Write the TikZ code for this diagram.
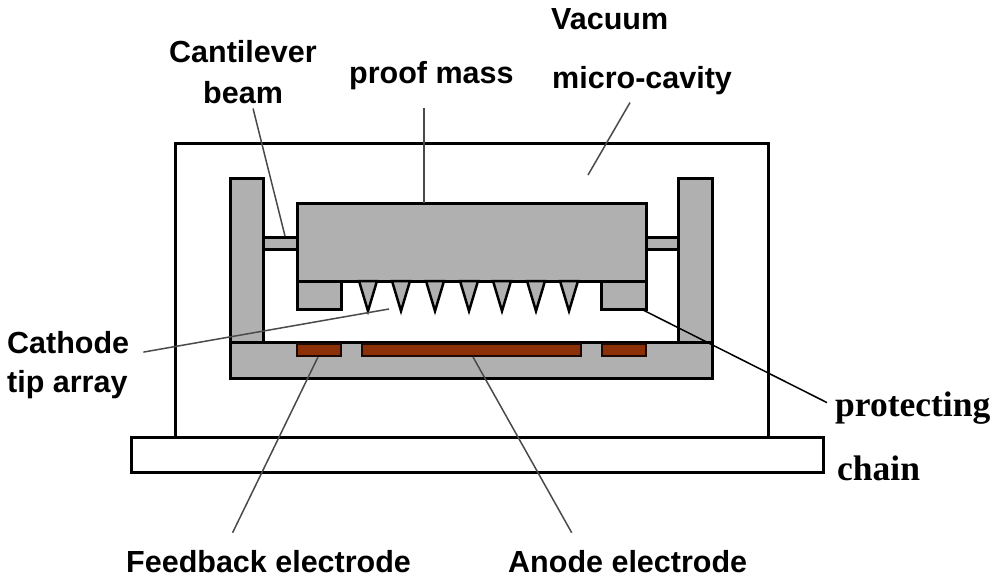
\documentclass[tikz,border=0pt]{standalone}
\usepackage{fontspec}
\setmainfont{Liberation Sans}
\newfontfamily\serifbold[BoldFont=*]{Liberation Serif Bold}
\definecolor{partgray}{HTML}{B0B0B0}
\definecolor{electrodebrown}{HTML}{8C3008}
\definecolor{leadergray}{HTML}{4A4A4A}
\tikzset{
  part/.style={draw=black, fill=partgray, line width=3pt},
  frame/.style={draw=black, fill=white, line width=3pt},
  electrode/.style={draw=black!80!electrodebrown, fill=electrodebrown, line width=2.5pt},
  leader/.style={draw=leadergray, line width=1.5pt},
  label/.style={anchor=base west, inner sep=0pt, font=\fontsize{30.5}{32}\selectfont\bfseries},
  seriflabel/.style={anchor=base west, inner sep=0pt, font=\fontsize{35.5}{36}\selectfont\serifbold}
}
\begin{document}
\begin{tikzpicture}[x=1pt, y=-1pt]
    \useasboundingbox (0,0) rectangle (1000,583);

    % Package and substrate
    \draw[frame] (175,143) rectangle (768,437);
    \draw[frame] (131,437) rectangle (823,472);

    % Side walls and bottom plate
    \draw[part] (230,178) rectangle (263,342);
    \draw[part] (678,178) rectangle (712,342);
    \draw[part] (230,342) rectangle (712,378);

    % Electrodes on the plate
    \draw[electrode] (297,344) rectangle (341,356);
    \draw[electrode] (362,344) rectangle (581,356);
    \draw[electrode] (602,344) rectangle (646,356);

    % Beams, stops and mass
    \draw[part] (263,237) rectangle (297,249);
    \draw[part] (646,237) rectangle (678,249);
    \draw[part] (297,281) rectangle (341,309);
    \draw[part] (601,281) rectangle (646,309);
    \draw[part] (297,203) rectangle (646,281);

    % Tips
    \foreach \tipx in {368,401,435,469,502,536,569}
      \draw[part, line width=2.5pt] (\tipx-9,281) -- (\tipx+9,281) -- (\tipx,311) -- cycle;

    % Labels
    \node[label] (cantilever) at (169,63) {Cantilever};
    \node[label] (beam) at (203,103) {beam};
    \node[label] (proofmass) at (349,84) {proof mass};
    \node[label] (vacuum) at (551,30) {Vacuum};
    \node[label] (microcavity) at (552,89) {micro-cavity};
    \node[label] (cathode) at (7,353) {Cathode};
    \node[label] (tiparray) at (7,392) {tip array};
    \node[label] (feedback) at (126,572) {Feedback electrode};
    \node[label] (anode) at (508,572) {Anode electrode};
    \node[seriflabel] (protecting) at (835,416) {protecting};
    \node[seriflabel] (chain) at (837,480) {chain};

    % Leader ends
    \coordinate (beamend) at (285,236);
    \coordinate (massend) at (424,203);
    \coordinate (cavityend) at (588,175);
    \coordinate (tipend) at (389,309);
    \coordinate (feedbackend) at (318,357);
    \coordinate (anodeend) at (473,357);
    \coordinate (stopend) at (643,310);

    % Leader lines
    \draw[leader] ([shift={(10,5)}]beam.south) -- (beamend);
    \draw[leader] (proofmass.south -| massend) ++(0,17) -- (massend);
    \draw[leader] (microcavity.south -| 630,0) ++(0,7) -- (cavityend);
    \draw[leader] ([shift={(14,10)}]cathode.east) -- (tipend);
    \draw[leader] ([shift={(-36,-17)}]feedback.north) -- (feedbackend);
    \draw[leader] ([shift={(-56,-17)}]anode.north) -- (anodeend);
    \draw[leader, draw=black] ([shift={(-8,-5)}]protecting.west) -- (stopend);
\end{tikzpicture}
\end{document}
